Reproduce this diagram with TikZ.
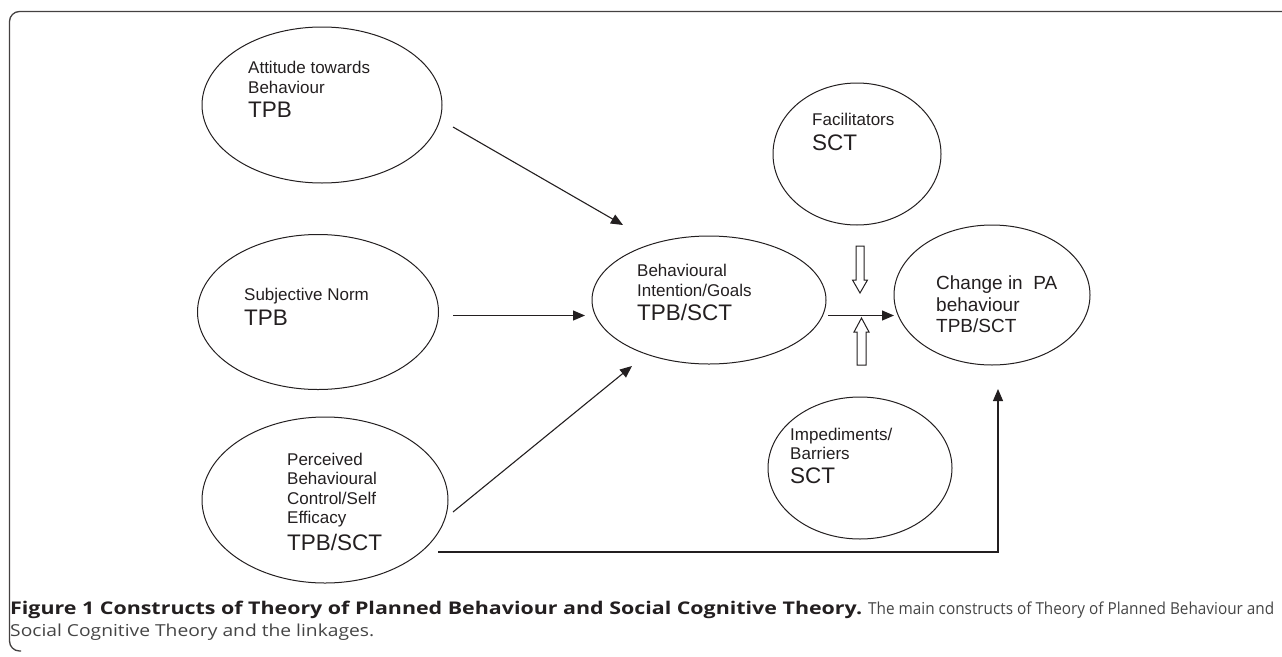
\documentclass[tikz,border=0pt]{standalone}
\usepackage{graphicx}
\usepackage{fontspec}
\setmainfont{Liberation Sans}
\newfontfamily\capfont{Open Sans}
\usetikzlibrary{arrows.meta,shapes.geometric}
\definecolor{ink}{HTML}{231F20}
\definecolor{capgray}{HTML}{454545}
\newcommand\bigtxt[1]{{\fontsize{22.5}{24}\selectfont #1}}
\tikzset{
  ell/.style={draw=ink, ellipse, line width=1pt, inner sep=0pt},
  txt/.style={anchor=north west, inner sep=0pt, align=left, text=ink, font=\fontsize{17}{19.5}\selectfont},
  arr/.style={draw=ink, line width=1.1pt, -{Triangle[length=12pt,width=10pt]}},
  hollow/.style={draw=ink, line width=1pt, fill=white},
  captxt/.style={anchor=base west, inner sep=0pt, font=\capfont\fontsize{16.5}{20}\selectfont}
}
\begin{document}
\begin{tikzpicture}[x=1pt,y=-1pt]
\useasboundingbox (0,0) rectangle (1282,656);
% frame
\draw[draw=ink!85, line width=1.3pt, rounded corners=10pt] (1282,11.5) -- (9.5,11.5) -- (9.5,651) -- (21,651);
% ellipses
\node[ell, minimum width=240, minimum height=156] (att) at (322,105) {};
\node[ell, minimum width=241, minimum height=155] (sub) at (318,312) {};
\node[ell, minimum width=246, minimum height=166] (per) at (325,500) {};
\node[ell, minimum width=234, minimum height=128] (bi) at (709,300) {};
\node[ell, minimum width=196, minimum height=140] (chg) at (992,295) {};
\node[ell, minimum width=168, minimum height=142] (fac) at (857,154) {};
\node[ell, minimum width=184, minimum height=142] (imp) at (860,468) {};
% texts
\node[txt] (attt) at (248,61) {Attitude towards\\Behaviour\\[5pt]\bigtxt{TPB}};
\node[txt] (subt) at (244,288.3) {Subjective Norm\\[5pt]\bigtxt{TPB}};
\node[txt] (pert) at (287,452.6) {Perceived\\Behavioural\\Control/Self\\Efficacy\\[6.5pt]\bigtxt{TPB/SCT}};
\node[txt] (bit) at (637,264.3) {Behavioural\\Intention/Goals\\[5pt]\bigtxt{TPB/SCT}};
\node[txt, font=\fontsize{19}{21.4}\selectfont] (chgt) at (936,276) {Change in\ \ PA\\behaviour\\TPB/SCT};
\node[txt] (fact) at (812,112.6) {Facilitators\\[5.5pt]\bigtxt{SCT}};
\node[txt] (impt) at (790,427.6) {Impediments/\\Barriers\\[4.5pt]\bigtxt{SCT}};
% connector end points
\coordinate (a1) at (453,127);  \coordinate (a2) at (623,225);
\coordinate (s1) at (453,315.5); \coordinate (s2) at (585,315.5);
\coordinate (p1) at (453,512);  \coordinate (p2) at (632,366);
\coordinate (b1) at (828,315.5); \coordinate (b2) at (894,315.5);
\coordinate (q1) at (438,552);  \coordinate (q2) at (998,552); \coordinate (q3) at (998,389);
\draw[arr] (a1) -- (a2);
\draw[arr] (s1) -- (s2);
\draw[arr] (p1) -- (p2);
\draw[arr] (b1) -- (b2);
\draw[arr] (q1) -- (q2) -- (q3);
% hollow arrows
\draw[hollow] (856,246) -- (864,246) -- (864,280) -- (867.5,280) -- (860,293) -- (852.5,280) -- (856,280) -- cycle;
\draw[hollow] (857,365) -- (866,365) -- (866,332) -- (869,332) -- (861.5,318) -- (854,332) -- (857,332) -- cycle;
% caption
\node[captxt] (cap1) at (10,614) {\resizebox{852pt}{\height}{\fontsize{17.5}{20}\selectfont\bfseries\color{ink}Figure 1 Constructs of Theory of Planned Behaviour and Social Cognitive Theory.}\hspace{6pt}\resizebox{406pt}{\height}{\color{capgray}The main constructs of Theory of Planned Behaviour and}};
\node[captxt] (cap2) at (10,636) {\resizebox{364pt}{\height}{\color{capgray}Social Cognitive Theory and the linkages.}};
\end{tikzpicture}
\end{document}
